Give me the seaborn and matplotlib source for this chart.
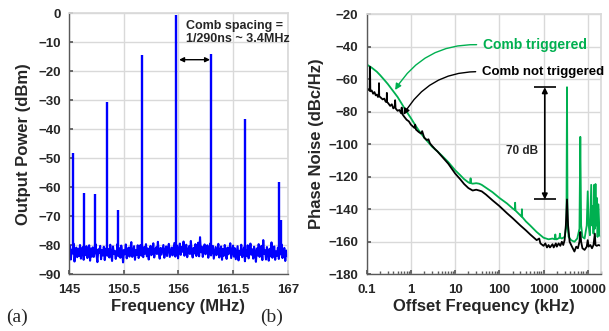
import matplotlib

matplotlib.use("Agg")
import matplotlib.pyplot as plt
import numpy as np
import seaborn as sns
from matplotlib.ticker import FixedLocator, LogLocator, NullFormatter

sns.set_theme(style="whitegrid")
plt.rcParams["font.family"] = ["Liberation Sans", "DejaVu Sans"]
plt.rcParams["font.weight"] = "bold"

BLUE, GREEN, BLACK = "#0000ff", "#00b050", "#000000"
GRID, SPINE = "#d9d9d9", "#595959"

# ---- (a) comb spectrum ----------------------------------------------------
noise_db = [
    -83.2, -80.1, -84.9, -81.5, -82.8, -79.4, -85.6, -82.3, -80.8, -84.1, -81.2, -83.7, -79.9, -84.6, -82.0, -80.6, -85.0, -81.8, -83.4, -80.3,
    -84.4, -82.5, -80.0, -85.3, -81.1, -83.9, -80.7, -84.0, -82.1, -79.6, -83.3, -85.8, -81.4, -82.7, -80.2, -84.8, -81.7, -83.5, -80.5, -85.1,
    -82.4, -80.9, -83.6, -81.3, -84.2, -79.8, -82.9, -85.4, -80.4, -83.0, -81.9, -84.7, -82.6, -79.5, -83.8, -81.0, -84.3, -80.1, -82.2, -85.9,
    -81.6, -83.1, -79.7, -84.5, -82.0, -80.8, -83.9, -81.2, -78.9, -84.0, -82.5, -80.3, -85.0, -81.7, -83.3, -80.0, -84.4, -82.8, -79.9, -83.6,
    -81.4, -84.1, -80.6, -82.9, -79.6, -83.8, -81.1, -84.9, -82.3, -80.2, -83.4, -81.8, -79.3, -84.2, -82.0, -80.7, -83.0, -78.8, -82.6, -84.6,
    -80.9, -83.2, -81.5, -79.9, -84.3, -82.1, -80.4, -83.7, -81.0, -79.5, -84.0, -82.4, -80.8, -83.5, -81.3, -79.2, -83.9, -82.7, -80.1, -84.5,
    -81.7, -79.4, -83.3, -80.6, -82.2, -78.7, -83.6, -81.1, -79.8, -84.1, -82.0, -80.3, -83.0, -78.5, -82.5, -84.2, -80.9, -82.8, -79.6, -83.7,
    -81.2, -79.1, -83.8, -77.2, -82.4, -80.5, -84.0, -81.6, -79.7, -83.1, -81.9, -80.0, -84.3, -82.2, -79.4, -83.5, -81.4, -80.2, -84.6, -82.7,
    -80.6, -83.4, -81.8, -79.5, -84.2, -82.1, -80.4, -85.0, -81.3, -83.6, -79.9, -82.8, -84.7, -80.8, -83.1, -81.5, -79.3, -84.4, -82.3, -80.1,
    -83.9, -81.0, -84.8, -82.5, -80.3, -85.2, -81.9, -83.3, -79.8, -84.1, -82.2, -80.7, -85.5, -81.6, -83.7, -80.0, -84.5, -82.9, -79.4, -83.2,
    -81.4, -84.6, -80.5, -82.8, -85.7, -81.1, -83.5, -79.6, -84.0, -82.4, -80.2, -85.1, -78.2, -83.0, -81.7, -84.9, -80.6, -82.6, -85.3, -81.2,
    -83.8, -79.0, -84.3, -81.9, -80.4, -85.0, -82.1, -83.6, -80.8, -84.7, -81.5, -83.1, -79.7, -84.4, -82.3, -80.9, -85.4, -81.8, -83.4, -84.0,
]
noise_mhz = np.linspace(145, 167, len(noise_db))  # analyser sweep grid

peak_mhz = [145.4, 146.5, 147.6, 148.85, 149.95, 152.37, 155.72, 159.24, 162.7, 166.08, 166.3]
peak_db = [-48, -62, -62.3, -30.5, -67.8, -14.3, -0.5, -14, -36.5, -58, -71.2]
freq_ticks = [145, 150.5, 156, 161.5, 167]

# ---- (b) phase noise ------------------------------------------------------
green_khz = [0.1, 0.13, 0.17, 0.2, 0.25, 0.3, 0.4, 0.5, 0.6, 0.7,
             0.8, 1, 1.3, 1.6, 2, 2.5, 3, 4, 5, 7,
             10, 13, 16, 20, 22, 22.4, 22.8, 25, 30, 35,
             40, 50, 70, 100, 150, 200, 225, 228, 232, 300,
             320, 325, 330, 400, 500, 700, 1000, 1300, 1600, 1800,
             1850, 1900, 2000, 2300, 2350, 2400, 2600, 3000, 3300, 3400,
             3500, 3700, 4200, 5000, 5800, 6500, 6800, 7100, 7600, 8500,
             9500, 10000, 10500, 11200, 12000, 12500, 13000, 13500, 14000, 14500,
             15000, 15500, 16000, 16700, 17500, 18500, 20000]
green_db = [-51, -53, -55.5, -57.5, -60.5, -63, -67.5, -71, -74.5, -77.5,
            -80, -84, -89, -92.5, -96, -99, -101.5, -104.5, -107, -111,
            -116, -119, -121.5, -123.5, -124, -121, -124, -124.3, -124, -124.3,
            -125, -126.8, -129.5, -133, -136.5, -139.5, -140.5, -136, -140.8, -143.8,
            -144.5, -140, -144.8, -147.5, -150, -154, -157.5, -158.5, -158, -158.5,
            -155.5, -158.5, -158.5, -157.5, -155, -157.5, -158, -157, -150, -65,
            -150, -157, -159, -160, -158, -152, -95.5, -150, -157, -158,
            -150, -129, -150, -156, -125, -150, -138, -155, -125, -152,
            -124.5, -150, -133, -157, -137, -156, -157]

black_khz = [0.1, 0.11, 0.117, 0.119, 0.121, 0.13, 0.14, 0.15, 0.16, 0.17,
             0.18, 0.188, 0.19, 0.192, 0.21, 0.23, 0.25, 0.27, 0.284, 0.286,
             0.288, 0.31, 0.34, 0.37, 0.4, 0.43, 0.44, 0.45, 0.5, 0.55,
             0.6, 0.62, 0.64, 0.7, 0.8, 0.9, 1.0, 1.2, 1.25, 1.3,
             1.5, 1.7, 1.8, 2.0, 2.3, 2.5, 2.7, 3, 3.5, 4,
             5, 7, 10, 13, 16, 20, 25, 30, 35, 40,
             50, 70, 100, 150, 200, 300, 400, 500, 700, 800,
             850, 1000, 1100, 1200, 1300, 1400, 1600, 1700, 1900, 2000,
             2200, 2400, 2600, 2800, 3000, 3200, 3400, 3600, 3900, 4400,
             5000, 5500, 6000, 6500, 6800, 7100, 7600, 8500, 9500, 10000,
             10500, 11500, 12500, 13500, 14500, 15000, 16000, 17500, 20000]
black_db = [-65.5, -66.5, -67, -52.5, -67.5, -67, -69, -68, -70, -69.5,
            -71, -70, -62.5, -70.5, -71.5, -72.5, -72, -74, -73.5, -68.5,
            -74, -75, -76.5, -75.5, -78, -77, -73, -78, -79.5, -79,
            -81, -77.5, -81.5, -83, -85, -86, -88, -90, -88, -91,
            -92.5, -93.5, -92, -96, -97.5, -97, -99.5, -101, -103, -104.5,
            -107.5, -112, -118, -121.5, -124.5, -127, -128.5, -128, -128.5, -129,
            -131, -134.5, -138, -142.5, -145.5, -150, -153, -155.5, -159, -158,
            -161, -162.5, -161, -163.5, -162, -163.5, -161.5, -163.5, -161, -163,
            -161, -162.5, -160, -162, -159, -150, -134, -150, -160, -163,
            -166, -163, -164, -160, -154, -160, -164, -165, -163, -159,
            -163, -162, -164, -162, -155, -162, -162.5, -162, -162.5]


def style_axes(ax):
    ax.set_facecolor("white")
    ax.grid(True, color=GRID, lw=1)
    for side in ("top", "right"):
        ax.spines[side].set_color(GRID)
    for side in ("left", "bottom"):
        ax.spines[side].set_color(SPINE)
        ax.spines[side].set_linewidth(1)
    ax.tick_params(which="both", direction="in", left=True, bottom=True,
                   color=SPINE, labelsize=9.5)
    ax.tick_params(axis="x", pad=7)
    ax.tick_params(axis="y", pad=6)
    for lab in ax.get_xticklabels() + ax.get_yticklabels():
        lab.set_fontweight("bold")


fig = plt.figure(figsize=(6.09, 3.31), dpi=100)
fig.patch.set_facecolor("white")
ax_a = fig.add_axes([0.1133, 0.1713, 0.3596, 0.7885])
ax_b = fig.add_axes([0.6021, 0.1713, 0.3848, 0.7864])

# (a)
sns.lineplot(x=noise_mhz, y=noise_db, color=BLUE, lw=1.5, estimator=None, ax=ax_a)
ax_a.vlines(peak_mhz, np.mean(noise_db), peak_db, color=BLUE, lw=1.7)
ax_a.set_xlim(145, 167)
ax_a.set_ylim(-90, 0)
ax_a.xaxis.set_major_locator(FixedLocator(freq_ticks))
ax_a.set_xticklabels([f"{t:g}" for t in freq_ticks])
ax_a.set_yticks(np.arange(-90, 1, 10))
ax_a.set_xlabel("Frequency (MHz)", fontsize=12, fontweight="bold", labelpad=2)
ax_a.set_ylabel("Output Power (dBm)", fontsize=12, fontweight="bold", labelpad=5)
style_axes(ax_a)
ax_a.tick_params(length=3)

spacing_y = -16
ax_a.annotate("", xy=(peak_mhz[7] - 0.07, spacing_y), xytext=(peak_mhz[6] + 0.34, spacing_y),
              arrowprops=dict(arrowstyle="<|-|>", color=BLACK, lw=1,
                              mutation_scale=7, shrinkA=0, shrinkB=0))
ax_a.text(156.8, -6.6, "Comb spacing =\n1/290ns ~ 3.4MHz", fontsize=9,
          fontweight="bold", ha="left", va="center", linespacing=1.2)

# (b)
sns.lineplot(x=green_khz, y=green_db, color=GREEN, lw=1.3, estimator=None, ax=ax_b)
sns.lineplot(x=black_khz, y=black_db, color=BLACK, lw=1.3, estimator=None, ax=ax_b)
ax_b.set_xscale("log")
ax_b.set_xlim(0.1, 20000)
ax_b.set_ylim(-180, -20)
ax_b.xaxis.set_major_locator(FixedLocator([0.1, 1, 10, 100, 1000, 10000]))
ax_b.set_xticklabels(["0.1", "1", "10", "100", "1000", "10000"])
ax_b.xaxis.set_minor_locator(LogLocator(base=10, subs=np.arange(2, 10)))
ax_b.xaxis.set_minor_formatter(NullFormatter())
ax_b.set_yticks(np.arange(-180, -19, 20))
ax_b.set_xlabel("Offset Frequency (kHz)", fontsize=12, fontweight="bold", labelpad=2)
ax_b.set_ylabel("Phase Noise (dBc/Hz)", fontsize=12, fontweight="bold", labelpad=3)
style_axes(ax_b)
ax_b.tick_params(which="major", length=3)
ax_b.tick_params(which="minor", length=2, left=False)
ax_b.grid(False, which="minor")

ax_b.annotate("Comb triggered", xy=(0.44, -66.7), xytext=(42, -39),
              color=GREEN, fontsize=10, fontweight="bold", ha="left", va="center",
              arrowprops=dict(arrowstyle="-|>", color=GREEN, lw=1, mutation_scale=9,
                              connectionstyle="arc3,rad=0.3", relpos=(0, 0.5),
                              shrinkA=2, shrinkB=0))
ax_b.annotate("Comb not triggered", xy=(0.68, -82), xytext=(40, -55.5),
              color=BLACK, fontsize=9.5, fontweight="bold", ha="left", va="center",
              arrowprops=dict(arrowstyle="-|>", color=BLACK, lw=1, mutation_scale=9,
                              connectionstyle="arc3,rad=0.3", relpos=(0, 0.5),
                              shrinkA=2, shrinkB=0))

span_top = green_db[green_khz.index(3400)]
span_bottom = black_db[black_khz.index(3400)]
ax_b.annotate("", xy=(1070, span_bottom), xytext=(1070, span_top),
              arrowprops=dict(arrowstyle="<|-|>", color=BLACK, lw=1.2,
                              mutation_scale=8, shrinkA=0, shrinkB=0))
ax_b.hlines([span_top, span_bottom], 611, 1900, color=BLACK, lw=1.2)
ax_b.text(321, (span_top + span_bottom) / 2 - 5, "70 dB", fontsize=8.5,
          fontweight="bold", ha="center", va="center")

serif = ["Liberation Serif", "DejaVu Serif"]
fig.text(17 / 609, 1 - 317 / 331, "(a)", family=serif, fontweight="normal",
         fontsize=14, ha="center", va="center")
fig.text(272 / 609, 1 - 317 / 331, "(b)", family=serif, fontweight="normal",
         fontsize=14, ha="center", va="center")

fig.savefig("out.png", dpi=100)
